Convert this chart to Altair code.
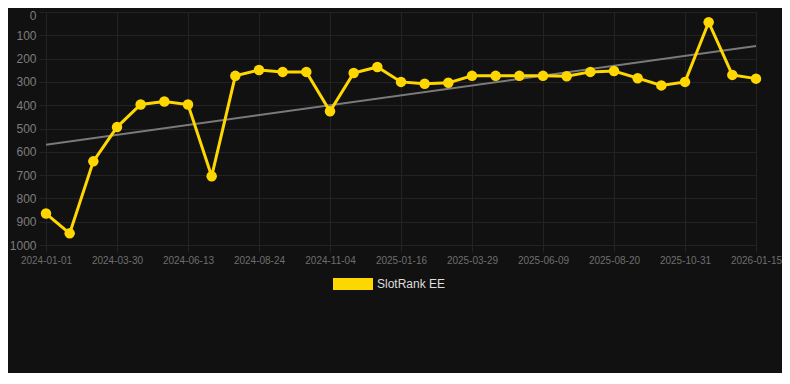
import json
import altair as alt
import pandas as pd

dates = [
    "2024-01-01", "2024-01-30", "2024-02-28", "2024-03-30", "2024-04-24", "2024-05-19",
    "2024-06-13", "2024-07-07", "2024-07-31", "2024-08-24", "2024-09-17", "2024-10-11",
    "2024-11-04", "2024-11-28", "2024-12-23", "2025-01-16", "2025-02-09", "2025-03-05",
    "2025-03-29", "2025-04-22", "2025-05-16", "2025-06-09", "2025-07-03", "2025-07-27",
    "2025-08-20", "2025-09-13", "2025-10-07", "2025-10-31", "2025-11-25", "2025-12-20",
    "2026-01-15",
]
ranks = [
    865, 950, 641, 494, 397, 384, 397, 705, 274, 249, 257, 257, 426, 262, 236, 300,
    308, 304, 274, 274, 274, 274, 276, 257, 253, 284, 315, 300, 44, 270, 286,
]
series_name = "SlotRank EE"
label_every = 3

df = pd.DataFrame({
    "idx": list(range(len(dates))),
    "date": dates,
    "rank": ranks,
    "series": [series_name] * len(dates),
})

GOLD = "#FFD700"
FONT = "Liberation Sans"
GRID = "#232323"
label_expr = json.dumps(dates) + "[datum.value]"

x = alt.X(
    "idx:Q",
    scale=alt.Scale(domain=[0, len(dates) - 1], nice=False, zero=False),
    axis=alt.Axis(
        title=None,
        values=list(range(0, len(dates), label_every)),
        labelExpr=label_expr,
        labelAngle=0,
        labelOverlap=False,
        labelFlush=False,
        labelBound=False,
        labelFontSize=10,
        labelColor="#6e6e6e",
        labelFont=FONT,
        tickSize=7,
        labelPadding=3,
        tickColor=GRID,
        gridColor=GRID,
        domain=False,
    ),
)
y = alt.Y(
    "rank:Q",
    scale=alt.Scale(domain=[0, 1000], reverse=True, nice=False),
    axis=alt.Axis(
        title=None,
        values=list(range(0, 1001, 100)),
        format="d",
        labelOverlap=False,
        labelFlush=False,
        labelFontSize=12,
        labelColor="#7d7d7d",
        labelFont=FONT,
        labelOffset={"condition": {"test": "datum.value == 0", "value": 3}, "value": 0},
        tickSize=7,
        labelPadding=3,
        tickColor=GRID,
        gridColor=GRID,
        domain=False,
    ),
)

base = alt.Chart(df)

trend = base.transform_regression("idx", "rank").mark_line(
    color="#7a7a7a", strokeWidth=2
).encode(x=x, y=y)

line = base.mark_line(color=GOLD, strokeWidth=3).encode(x=x, y=y)

points = base.mark_point(filled=True, size=110, opacity=1).encode(
    x=x,
    y=y,
    color=alt.Color(
        "series:N",
        scale=alt.Scale(range=[GOLD]),
        legend=alt.Legend(
            title=None,
            orient="none",
            legendX=287,
            legendY=252,
            symbolType="M-1,-0.3H1V0.3H-1Z",
            symbolSize=1600,
            symbolStrokeWidth=0,
            symbolOpacity=1,
            labelColor="#dddddd",
            labelFontSize=12,
            labelFont=FONT,
            padding=0,
        ),
    ),
)

chart = (
    alt.layer(trend, line, points)
    .properties(
        width=710,
        height=233,
        autosize="none",
        padding={"left": 38, "top": 4, "right": 26, "bottom": 128},
        background="#111111",
    )
    .configure_view(stroke=None, fill="#111111")
)

chart.save("out.html", embed_options={"renderer": "svg", "actions": False})
